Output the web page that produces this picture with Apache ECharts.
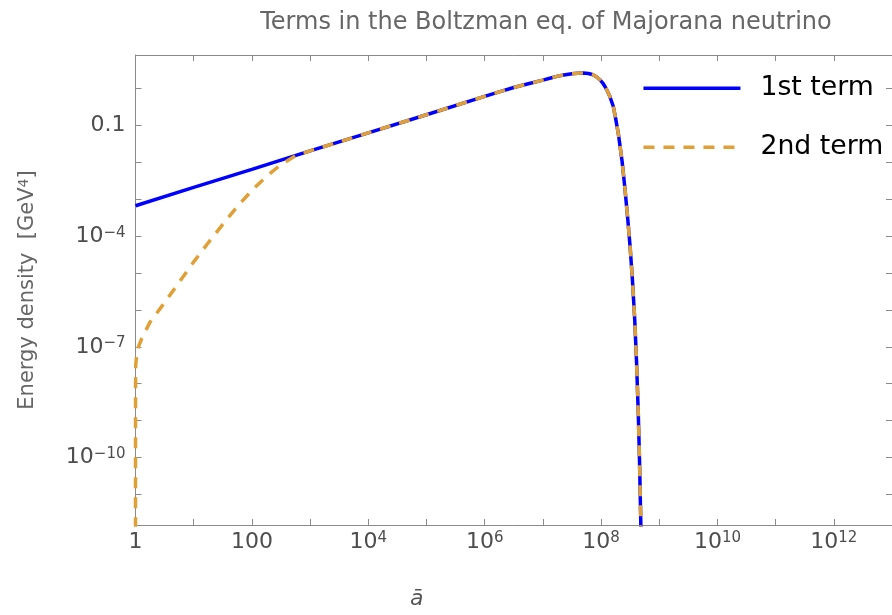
<!DOCTYPE html>
<html>
<head>
<meta charset="utf-8">
<title>Terms in the Boltzman eq. of Majorana neutrino</title>
<script src="https://cdn.jsdelivr.net/npm/echarts@6/dist/echarts.min.js"></script>
<style>
  html, body { margin: 0; padding: 0; background: #ffffff; }
  #chart { width: 892px; height: 615px; }
</style>
</head>
<body>
<div id="chart"></div>
<script>
// Scale factor a-bar and the two terms (energy density, GeV^4)
const aFirst = [1, 10, 100, 1e3, 1e4, 1e5, 1e6, 1.778e6, 3.162e6, 5.623e6, 1e7, 1.318e7,
  1.738e7, 2.291e7, 3.162e7, 3.981e7, 5.012e7, 6.026e7, 7.079e7, 8.318e7, 9.55e7, 1.072e8,
  1.175e8, 1.288e8, 1.413e8, 1.622e8, 1.778e8, 1.995e8, 2.291e8, 2.57e8, 2.884e8, 3.162e8,
  3.467e8, 3.802e8, 4.074e8, 4.365e8, 4.571e8, 4.786e8, 5.012e8];
const firstTerm = [6.68e-4, 2.09e-3, 6.46e-3, 2.04e-2, 6.3e-2, 0.195, 0.617, 0.813, 1.072,
  1.349, 1.698, 1.905, 2.138, 2.344, 2.512, 2.6, 2.63, 2.57, 2.399, 2.089, 1.738, 1.413,
  1.122, 0.851, 0.617, 0.331, 0.158, 5.62e-2, 1.122e-2, 2.0e-3, 2.82e-4, 5.01e-5, 6.31e-6,
  5.01e-7, 3.98e-8, 1.58e-9, 1e-10, 3.16e-12, 6.3e-14];

const aSecond = [1, 1.0005, 1.0023, 1.0093, 1.047, 1.122, 1.259, 1.778, 3.162, 5.623, 10,
  17.78, 31.62, 56.23, 100, 177.8, 316.2, 562.3, 1e3, 1e4, 1e5, 1e6, 1.778e6, 3.162e6,
  5.623e6, 1e7, 1.318e7, 1.738e7, 2.291e7, 3.162e7, 3.981e7, 5.012e7, 6.026e7, 7.079e7,
  8.318e7, 9.55e7, 1.072e8, 1.175e8, 1.288e8, 1.413e8, 1.622e8, 1.778e8, 1.995e8, 2.291e8,
  2.57e8, 2.884e8, 3.162e8, 3.467e8, 3.802e8, 4.074e8, 4.365e8, 4.571e8, 4.786e8, 5.012e8];
const secondTerm = [1e-13, 3.2e-10, 6.3e-9, 3.2e-8, 6.0e-8, 1.0e-7, 1.58e-7, 4.68e-7,
  1.58e-6, 5.62e-6, 2.0e-5, 6.6e-5, 2.09e-4, 6.3e-4, 1.74e-3, 4.17e-3, 8.7e-3, 1.51e-2,
  2.04e-2, 6.3e-2, 0.195, 0.617, 0.813, 1.072, 1.349, 1.698, 1.905, 2.138, 2.344, 2.512,
  2.6, 2.63, 2.57, 2.399, 2.089, 1.738, 1.413, 1.122, 0.851, 0.617, 0.331, 0.158, 5.62e-2,
  1.122e-2, 2.0e-3, 2.82e-4, 5.01e-5, 6.31e-6, 5.01e-7, 3.98e-8, 1.58e-9, 1e-10, 3.16e-12,
  6.3e-14];

// Decade exponents for ticks and labels
const xTickExp = [0, 1, 2, 3, 4, 5, 6, 7, 8, 9, 10, 11, 12, 13];
const xLabelExp = [0, 2, 4, 6, 8, 10, 12];
const yTickExp = [-11, -10, -9, -8, -7, -6, -5, -4, -3, -2, -1, 0];
const yLabelExp = [-10, -7, -4, -1];

// Axis ranges in decades
const xRange = [0, 13];
const yRange = [-11.83, 0.91];

const FONT = 'DejaVu Sans';
const AXIS_GRAY = '#8a8a8a';
const LABEL_GRAY = '#4d4d4d';
const BLUE = '#0000ff';
const ORANGE = '#e0a035';
const DASH = [11, 9];

// Both axes run in log10 space; the data is converted when the series are built
const toLogPairs = (xs, ys) => xs.map((x, i) => [Math.log10(x), Math.log10(ys[i])]);

function powerLabel(v) {
  const e = Math.round(v);
  if (e === 0) return '1';
  if (e === 2) return '100';
  if (e === -1) return '0.1';
  return '{b|10}{s|' + String(e).replace('-', '\u2212') + '}';
}

const labelRich = {
  b: { fontFamily: FONT, fontSize: 22, lineHeight: 22, verticalAlign: 'bottom', color: LABEL_GRAY },
  s: { fontFamily: FONT, fontSize: 15, lineHeight: 15, verticalAlign: 'top', padding: [0, 0, 16, 0], color: LABEL_GRAY }
};

const baseLabel = {
  fontFamily: FONT, fontSize: 22, lineHeight: 22, color: LABEL_GRAY, rich: labelRich, formatter: powerLabel
};

const tickStyle = { show: true, inside: true, length: 6, lineStyle: { color: AXIS_GRAY, width: 1 } };
const lineStyleAxis = { show: true, onZero: false, lineStyle: { color: AXIS_GRAY, width: 1 } };

const chart = echarts.init(document.getElementById('chart'), null, { renderer: 'canvas' });

chart.setOption({
  animation: false,
  backgroundColor: '#ffffff',
  title: {
    text: 'Terms in the Boltzman eq. of Majorana neutrino',
    left: 546,
    top: 11,
    textAlign: 'center',
    padding: 0,
    textStyle: { fontFamily: FONT, fontSize: 24, fontWeight: 'normal', color: '#666666' }
  },
  legend: {
    orient: 'vertical',
    left: 641.7,
    top: 73.3,
    padding: 0,
    itemWidth: 97,
    itemHeight: 14,
    itemGap: 29,
    itemStyle: { opacity: 0 },
    textStyle: { fontFamily: FONT, fontSize: 26.7, lineHeight: 30, color: '#000000', padding: [0, 0, 0, 15] },
    data: [
      { name: '1st term', lineStyle: { color: BLUE, width: 3.5, type: 'solid' } },
      { name: '2nd term', lineStyle: { color: ORANGE, width: 3.5, type: DASH } }
    ]
  },
  grid: { left: 135.5, right: -3, top: 55, bottom: 87.3 },
  xAxis: [
    {
      type: 'value', min: xRange[0], max: xRange[1], position: 'bottom',
      name: 'ā', nameLocation: 'middle', nameGap: 63,
      nameTextStyle: { fontFamily: FONT, fontSize: 22, fontStyle: 'italic', color: '#555555', padding: [0, 194, 0, 0] },
      axisLine: lineStyleAxis,
      axisTick: Object.assign({ customValues: xTickExp }, tickStyle),
      axisLabel: Object.assign({ customValues: xLabelExp, margin: 6 }, baseLabel),
      splitLine: { show: false }
    },
    {
      type: 'value', min: xRange[0], max: xRange[1], position: 'top',
      axisLine: lineStyleAxis,
      axisTick: Object.assign({ customValues: xTickExp }, tickStyle),
      axisLabel: { show: false },
      splitLine: { show: false }
    }
  ],
  yAxis: [
    {
      type: 'value', min: yRange[0], max: yRange[1], position: 'left',
      name: 'Energy density  [GeV{sup|4}]', nameLocation: 'middle', nameGap: 97,
      nameTextStyle: {
        fontFamily: FONT, fontSize: 21, lineHeight: 21, color: '#666666',
        rich: { sup: { fontFamily: FONT, fontSize: 14, lineHeight: 14, verticalAlign: 'top', padding: [0, 0, 10, 0], color: '#666666' } }
      },
      axisLine: lineStyleAxis,
      axisTick: Object.assign({ customValues: yTickExp }, tickStyle),
      axisLabel: Object.assign({ customValues: yLabelExp, margin: 10 }, baseLabel),
      splitLine: { show: false }
    },
    {
      type: 'value', min: yRange[0], max: yRange[1], position: 'right',
      axisLine: lineStyleAxis,
      axisTick: Object.assign({ customValues: yTickExp }, tickStyle),
      axisLabel: { show: false },
      splitLine: { show: false }
    }
  ],
  series: [
    {
      name: '1st term',
      type: 'line',
      data: toLogPairs(aFirst, firstTerm),
      symbol: 'none',
      showSymbol: false,
      clip: true,
      silent: true,
      lineStyle: { color: BLUE, width: 3.5 },
      itemStyle: { color: BLUE }
    },
    {
      name: '2nd term',
      type: 'line',
      data: toLogPairs(aSecond, secondTerm),
      symbol: 'none',
      showSymbol: false,
      clip: true,
      silent: true,
      lineStyle: { color: ORANGE, width: 3.5, type: DASH },
      itemStyle: { color: ORANGE }
    }
  ]
});
</script>
</body>
</html>
